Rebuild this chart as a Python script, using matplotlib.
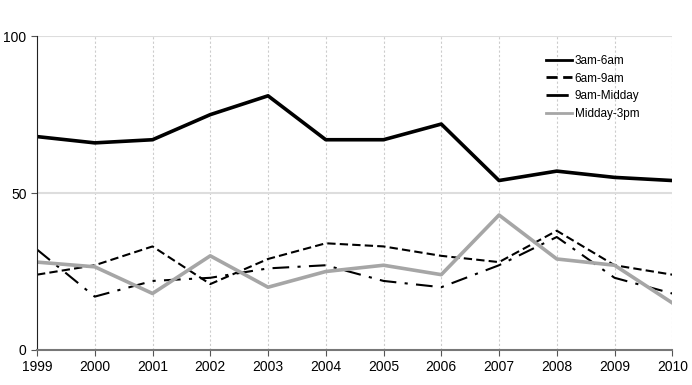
import matplotlib
matplotlib.use("Agg")
from matplotlib import pyplot as plt

years = [1999, 2000, 2001, 2002, 2003, 2004, 2005, 2006, 2007, 2008, 2009, 2010]
early = [68, 66, 67, 75, 81, 67, 67, 72, 54, 57, 55, 54]        # 3am-6am
morning = [24, 27, 33, 21, 29, 34, 33, 30, 28, 38, 27, 24]      # 6am-9am
late_morning = [32, 17, 22, 23, 26, 27, 22, 20, 27, 36, 23, 18]  # 9am-Midday
afternoon = [28, 26.5, 18, 30, 20, 25, 27, 24, 43, 29, 27, 15]   # Midday-3pm

plt.rcParams['font.family'] = ['Liberation Sans', 'DejaVu Sans']

fig = plt.figure(figsize=(6.92, 3.85), dpi=100)
ax = fig.add_axes([0.0535, 0.091, 0.918, 0.815])

ax.plot(years, early, color='black', lw=2.6, label='3am-6am')
ax.plot(years, morning, color='black', lw=1.5, ls=(0, (4, 2)), label='6am-9am')
ax.plot(years, late_morning, color='black', lw=1.5, ls=(0, (8, 4, 1.5, 4)), label='9am-Midday')
ax.plot(years, afternoon, color='#a6a6a6', lw=2.6, label='Midday-3pm')

ax.set_xlim(1999, 2010)
ax.set_ylim(0, 100)
ax.set_xticks(years)
ax.set_yticks([0, 50, 100])
ax.tick_params(labelsize=10, length=4, color='#555555')

for y in years[1:]:
    ax.axvline(y, color='#cccccc', lw=0.8, ls=(0, (2, 2)), zorder=0)
for y in [50, 100]:
    ax.axhline(y, color='#dddddd', lw=1.5, zorder=0)

ax.spines['top'].set_visible(False)
ax.spines['right'].set_visible(False)
ax.spines['left'].set_color('#222222')
ax.spines['bottom'].set_color('#777777')
ax.spines['bottom'].set_linewidth(1.5)

leg = ax.legend(loc='upper right', bbox_to_anchor=(0.965, 0.975), frameon=False, fontsize=8.5,
                handlelength=2.2, handletextpad=0.2, labelspacing=0.5)
for line in leg.get_lines():
    line.set_linewidth(2)
leg.get_lines()[2].set_dashes([8, 3, 1.5, 3])

fig.savefig('out.png', dpi=100)
